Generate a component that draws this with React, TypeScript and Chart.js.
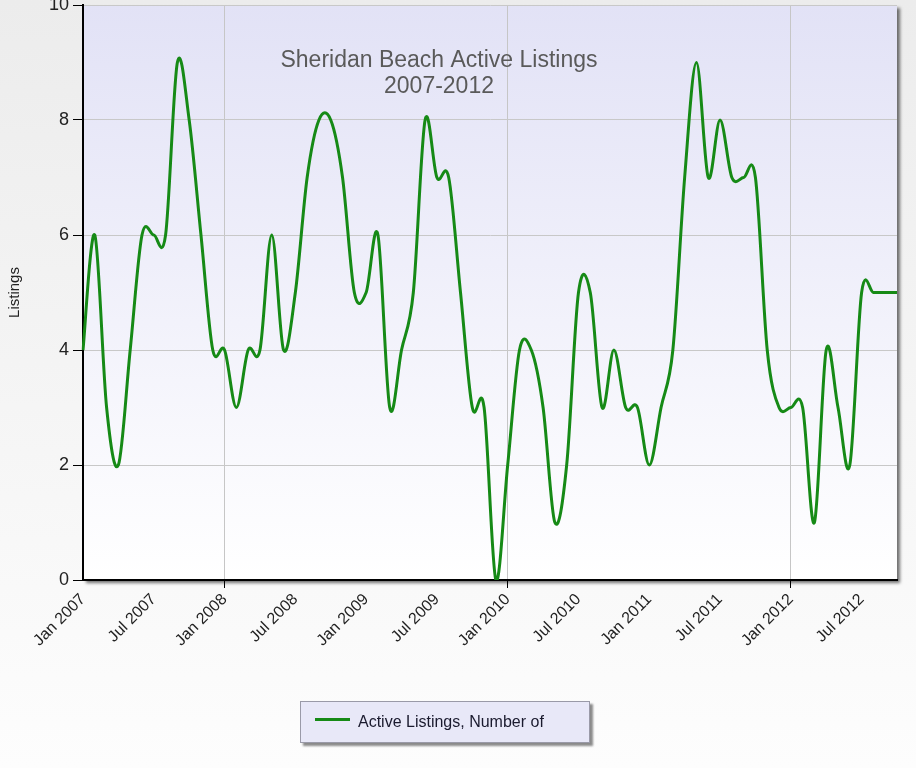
import React, { useEffect, useRef } from 'react';
import { Chart, registerables } from 'chart.js';

Chart.register(...registerables);

// ---------- data ----------
const years = ['2007', '2008', '2009', '2010', '2011', '2012'];
const monthNames = ['Jan', 'Feb', 'Mar', 'Apr', 'May', 'Jun', 'Jul', 'Aug', 'Sep', 'Oct', 'Nov', 'Dec'];

const listings2007 = [4, 6, 3, 2, 4, 6, 6, 6, 9, 8, 6, 4];
const listings2008 = [4, 3, 4, 4, 6, 4, 5, 7, 8, 8, 7, 5];
const listings2009 = [5, 6, 3, 4, 5, 8, 7, 7, 5, 3, 3, 0];
const listings2010 = [2, 4, 4, 3, 1, 2, 5, 5, 3, 4, 3, 3];
const listings2011 = [2, 3, 4, 7, 9, 7, 8, 7, 7, 7, 4, 3];
const listings2012 = [3, 3, 1, 4, 3, 2, 5, 5, 5, 5];
const listingsByYear = [listings2007, listings2008, listings2009, listings2010, listings2011, listings2012];

const tickLabels = [
  'Jan 2007', 'Jul 2007', 'Jan 2008', 'Jul 2008', 'Jan 2009', 'Jul 2009',
  'Jan 2010', 'Jul 2010', 'Jan 2011', 'Jul 2011', 'Jan 2012', 'Jul 2012',
];
const gridLabels = ['Jan 2008', 'Jan 2010', 'Jan 2012'];
const yMin = 0;
const yMax = 10;
const yStep = 2;

const seriesName = 'Active Listings, Number of';
const chartTitle = ['Sheridan Beach Active Listings', '2007-2012'];
const yAxisTitle = 'Listings';

const categories: string[] = [];
const values: number[] = [];
listingsByYear.forEach((arr, yi) =>
  arr.forEach((v, mi) => {
    categories.push(`${monthNames[mi]} ${years[yi]}`);
    values.push(v);
  })
);

// ---------- style ----------
const FONT = '"Liberation Sans", Arial, Helvetica, sans-serif';
const GREEN = '#168a16';

// plot-area background with drop shadow
const plotBackground = {
  id: 'plotBackground',
  beforeDraw(chart: any) {
    const { ctx, chartArea: a } = chart;
    ctx.save();
    ctx.shadowColor = 'rgba(0,0,0,0.55)';
    ctx.shadowBlur = 3;
    ctx.shadowOffsetX = 3;
    ctx.shadowOffsetY = 3;
    const g = ctx.createLinearGradient(0, a.top, 0, a.bottom);
    g.addColorStop(0, '#e2e2f6');
    g.addColorStop(1, '#ffffff');
    ctx.fillStyle = g;
    ctx.fillRect(a.left, a.top, a.right - a.left, a.bottom - a.top);
    ctx.restore();
  },
};

// uniform Catmull-Rom control points on the points placed by Chart.js scales
const catmullRom = {
  id: 'catmullRom',
  beforeDatasetDraw(chart: any, args: any) {
    const meta = args.meta;
    const pts = meta.data;
    const n = pts.length;
    for (let i = 0; i < n; i++) {
      const p = pts[i];
      const prev = pts[Math.max(0, i - 1)];
      const next = pts[Math.min(n - 1, i + 1)];
      const dx = (next.x - prev.x) / 6;
      const dy = (next.y - prev.y) / 6;
      p.cp1x = p.x - dx;
      p.cp1y = p.y - dy;
      p.cp2x = p.x + dx;
      p.cp2y = p.y + dy;
    }
    if (meta.dataset) {
      meta.dataset._pointsUpdated = true;
      meta.dataset._path = undefined;
    }
  },
};

// title drawn inside the plot area
const innerTitle = {
  id: 'innerTitle',
  beforeDatasetsDraw(chart: any) {
    const { ctx, chartArea: a } = chart;
    ctx.save();
    ctx.font = `23px ${FONT}`;
    ctx.fillStyle = '#5a5a5a';
    ctx.textAlign = 'center';
    ctx.textBaseline = 'alphabetic';
    const cx = a.left + 356;
    ctx.fillText(chartTitle[0], cx, a.top + 62);
    ctx.fillText(chartTitle[1], cx, a.top + 88);
    ctx.restore();
  },
};

const isGridTick = (c: any) => gridLabels.includes(categories[c.index]);

export default function App() {
  const ref = useRef<HTMLCanvasElement>(null);

  useEffect(() => {
    const canvas = ref.current;
    if (!canvas) return;
    const chart = new Chart(canvas, {
      type: 'line',
      data: {
        labels: categories,
        datasets: [
          {
            label: seriesName,
            data: values,
            borderColor: GREEN,
            backgroundColor: GREEN,
            borderWidth: 3,
            pointRadius: 0,
            pointHoverRadius: 0,
            tension: 0.4,
            fill: false,
          },
        ],
      },
      options: {
        responsive: false,
        animation: false,
        devicePixelRatio: 1,
        events: [],
        layout: { padding: { top: 35, right: 19, bottom: 0, left: 0 } },
        plugins: {
          legend: { display: false },
          tooltip: { enabled: false },
          title: { display: false },
        },
        scales: {
          x: {
            type: 'category',
            afterFit: (s: any) => {
              s.height = 188;
            },
            grid: {
              color: (c: any) => (isGridTick(c) ? '#c6c6c6' : 'rgba(0,0,0,0)'),
              tickColor: (c: any) => (isGridTick(c) ? '#000000' : 'rgba(0,0,0,0)'),
              tickLength: 8,
              lineWidth: 1,
            },
            border: { color: '#000000', width: 2 },
            ticks: {
              autoSkip: false,
              minRotation: 45,
              maxRotation: 45,
              padding: 2,
              color: '#222222',
              font: { family: FONT, size: 16 },
              callback: (_v: any, idx: number) => (tickLabels.includes(categories[idx]) ? categories[idx] : ''),
            },
          },
          y: {
            min: yMin,
            max: yMax,
            afterFit: (s: any) => {
              s.width = 83;
            },
            ticks: {
              stepSize: yStep,
              padding: 4,
              color: '#222222',
              font: { family: FONT, size: 18 },
            },
            grid: { color: '#c8c8c8', tickColor: '#000000', tickLength: 10, lineWidth: 1 },
            border: { color: '#000000', width: 2 },
            title: {
              display: true,
              text: yAxisTitle,
              color: '#222222',
              font: { family: FONT, size: 15 },
              padding: { top: 6, bottom: 0 },
            },
          },
        },
      },
      plugins: [plotBackground, catmullRom, innerTitle],
    } as any);
    return () => chart.destroy();
  }, []);

  return (
    <div
      style={{
        position: 'absolute',
        left: 0,
        top: 0,
        width: 916,
        height: 768,
        overflow: 'hidden',
        background: 'linear-gradient(#ececec, #fdfdfd)',
      }}
    >
      <canvas ref={ref} width={916} height={798} style={{ position: 'absolute', left: 0, top: -30 }} />
      <div
        style={{
          position: 'absolute',
          left: 300,
          top: 701,
          width: 290,
          height: 42,
          boxSizing: 'border-box',
          border: '1px solid #9a9aa8',
          background: '#e8e8f8',
          boxShadow: '3px 3px 2px rgba(0,0,0,0.45)',
        }}
      >
        <div
          style={{
            position: 'absolute',
            left: 14,
            top: 16,
            width: 35,
            height: 3,
            background: GREEN,
          }}
        />
        <div
          style={{
            position: 'absolute',
            left: 57,
            top: 0,
            height: 40,
            lineHeight: '40px',
            fontFamily: FONT,
            fontSize: 16,
            color: '#1a1a2e',
            whiteSpace: 'nowrap',
          }}
        >
          {seriesName}
        </div>
      </div>
    </div>
  );
}
